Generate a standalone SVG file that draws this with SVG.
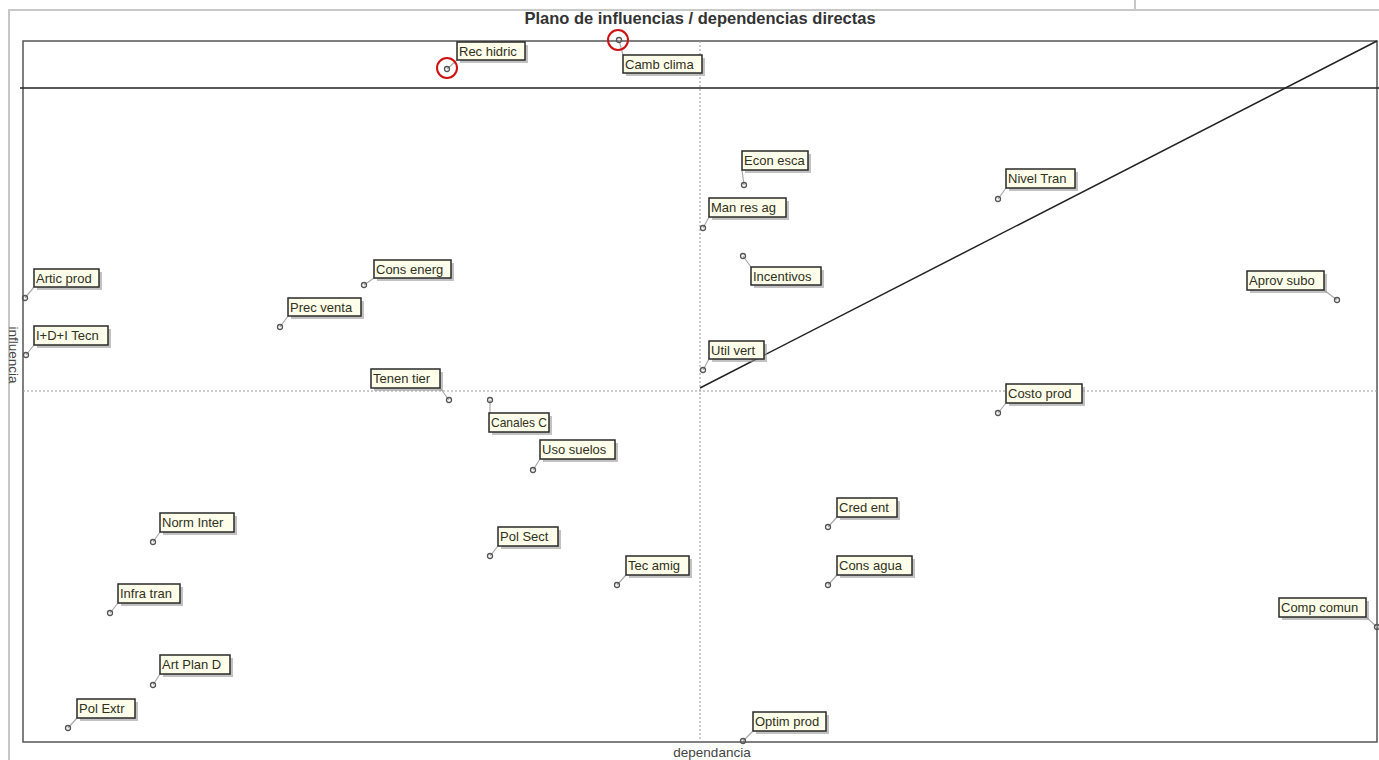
<svg xmlns="http://www.w3.org/2000/svg" width="1379" height="760" viewBox="0 0 1379 760">
<style>
.frame{fill:none;stroke:#c8c8c8;stroke-width:2}
.plot{fill:none;stroke:#555;stroke-width:1.5}
.axis{stroke:#999;stroke-width:1;stroke-dasharray:2,2}
.solid{stroke:#222;stroke-width:1.5;fill:none}
.title{font-family:"Liberation Sans",Arial,sans-serif;font-size:16.5px;font-weight:bold;fill:#333;text-anchor:middle}
.axlab{font-family:"Liberation Sans",Arial,sans-serif;font-size:13.5px;fill:#444}
.box{fill:#fdfdea;stroke:#2a2a2a;stroke-width:1.5}
.shadow{fill:#9a9a9a;opacity:0.6}
.lbl{font-family:"Liberation Sans",Arial,sans-serif;font-size:13px;fill:#30301c}
.lead{stroke:#aaa;stroke-width:1.2}
.pt{fill:none;stroke:#555;stroke-width:1.3}
.hl{fill:none;stroke:#d01010;stroke-width:2}
</style>
<rect width="1379" height="760" fill="#fff"/>
<g id="frame">
<path class="frame" d="M9,760 V10 H1379 M1135,0 V10"/>
<rect class="plot" x="23" y="41" width="1354" height="701"/>
<line class="solid" x1="20" y1="88" x2="1379" y2="88"/>
<line class="axis" x1="700" y1="41" x2="700" y2="742"/>
<line class="axis" x1="23" y1="391" x2="1377" y2="391"/>
<line class="solid" x1="700" y1="388" x2="1377" y2="41"/>
<text class="title" x="700" y="24">Plano de influencias / dependencias directas</text>
<text class="axlab" x="712" y="757" text-anchor="middle">dependancia</text>
<text class="axlab" transform="translate(9,355) rotate(90)" text-anchor="middle">influencia</text>
</g>
<g id="connectors">
<line class="lead" x1="447" y1="69" x2="457" y2="60"/>
<line class="lead" x1="619" y1="40" x2="623" y2="55"/>
<line class="lead" x1="744" y1="185" x2="742" y2="170"/>
<line class="lead" x1="703" y1="228" x2="709" y2="217"/>
<line class="lead" x1="743" y1="256" x2="751" y2="267"/>
<line class="lead" x1="998" y1="199" x2="1006" y2="188"/>
<line class="lead" x1="1337" y1="300" x2="1324" y2="290"/>
<line class="lead" x1="25" y1="298" x2="34" y2="287"/>
<line class="lead" x1="26" y1="355" x2="34" y2="345"/>
<line class="lead" x1="364" y1="285" x2="374" y2="278"/>
<line class="lead" x1="280" y1="327" x2="288" y2="316"/>
<line class="lead" x1="703" y1="370" x2="709" y2="359"/>
<line class="lead" x1="449" y1="400" x2="440" y2="388"/>
<line class="lead" x1="490" y1="400" x2="490" y2="413"/>
<line class="lead" x1="533" y1="470" x2="540" y2="459"/>
<line class="lead" x1="998" y1="413" x2="1006" y2="403"/>
<line class="lead" x1="153" y1="542" x2="160" y2="532"/>
<line class="lead" x1="490" y1="556" x2="498" y2="546"/>
<line class="lead" x1="617" y1="585" x2="626" y2="575"/>
<line class="lead" x1="828" y1="527" x2="837" y2="517"/>
<line class="lead" x1="828" y1="585" x2="837" y2="575"/>
<line class="lead" x1="110" y1="613" x2="118" y2="603"/>
<line class="lead" x1="153" y1="685" x2="160" y2="674"/>
<line class="lead" x1="68" y1="728" x2="77" y2="718"/>
<line class="lead" x1="743" y1="741" x2="753" y2="731"/>
<line class="lead" x1="1377" y1="627" x2="1366" y2="617"/>
</g>
<g id="n-rec-hidric"><circle class="pt" cx="447" cy="69" r="2.5"/><circle class="hl" cx="447" cy="68" r="10"/><rect class="shadow" x="460" y="45" width="68" height="18"/><rect class="box" x="457" y="42" width="68" height="18"/><text class="lbl" x="459" y="56">Rec hidric</text></g>
<g id="n-camb-clima"><circle class="pt" cx="619" cy="40" r="2.5"/><circle class="hl" cx="618" cy="40" r="10"/><rect class="shadow" x="626" y="58" width="79" height="18"/><rect class="box" x="623" y="55" width="79" height="18"/><text class="lbl" x="625" y="69">Camb clima</text></g>
<g id="n-econ-esca"><circle class="pt" cx="744" cy="185" r="2.5"/><rect class="shadow" x="745" y="154" width="66" height="19"/><rect class="box" x="742" y="151" width="66" height="19"/><text class="lbl" x="744" y="165">Econ esca</text></g>
<g id="n-man-res-ag"><circle class="pt" cx="703" cy="228" r="2.5"/><rect class="shadow" x="712" y="201" width="77" height="19"/><rect class="box" x="709" y="198" width="77" height="19"/><text class="lbl" x="711" y="212">Man res ag</text></g>
<g id="n-incentivos"><circle class="pt" cx="743" cy="256" r="2.5"/><rect class="shadow" x="754" y="270" width="70" height="18"/><rect class="box" x="751" y="267" width="70" height="18"/><text class="lbl" x="753" y="281">Incentivos</text></g>
<g id="n-nivel-tran"><circle class="pt" cx="998" cy="199" r="2.5"/><rect class="shadow" x="1009" y="172" width="69" height="19"/><rect class="box" x="1006" y="169" width="69" height="19"/><text class="lbl" x="1008" y="183">Nivel Tran</text></g>
<g id="n-aprov-subo"><circle class="pt" cx="1337" cy="300" r="2.5"/><rect class="shadow" x="1250" y="274" width="77" height="19"/><rect class="box" x="1247" y="271" width="77" height="19"/><text class="lbl" x="1249" y="285">Aprov subo</text></g>
<g id="n-artic-prod"><circle class="pt" cx="25" cy="298" r="2.5"/><rect class="shadow" x="37" y="272" width="65" height="18"/><rect class="box" x="34" y="269" width="65" height="18"/><text class="lbl" x="36" y="283">Artic prod</text></g>
<g id="n-idi-tecn"><circle class="pt" cx="26" cy="355" r="2.5"/><rect class="shadow" x="37" y="329" width="74" height="19"/><rect class="box" x="34" y="326" width="74" height="19"/><text class="lbl" x="36" y="340">I+D+I Tecn</text></g>
<g id="n-cons-energ"><circle class="pt" cx="364" cy="285" r="2.5"/><rect class="shadow" x="377" y="263" width="77" height="18"/><rect class="box" x="374" y="260" width="77" height="18"/><text class="lbl" x="376" y="274">Cons energ</text></g>
<g id="n-prec-venta"><circle class="pt" cx="280" cy="327" r="2.5"/><rect class="shadow" x="291" y="301" width="73" height="18"/><rect class="box" x="288" y="298" width="73" height="18"/><text class="lbl" x="290" y="312">Prec venta</text></g>
<g id="n-util-vert"><circle class="pt" cx="703" cy="370" r="2.5"/><rect class="shadow" x="712" y="344" width="55" height="18"/><rect class="box" x="709" y="341" width="55" height="18"/><text class="lbl" x="711" y="355">Util vert</text></g>
<g id="n-tenen-tier"><circle class="pt" cx="449" cy="400" r="2.5"/><rect class="shadow" x="374" y="372" width="69" height="19"/><rect class="box" x="371" y="369" width="69" height="19"/><text class="lbl" x="373" y="383">Tenen tier</text></g>
<g id="n-canales-c"><circle class="pt" cx="490" cy="400" r="2.5"/><rect class="shadow" x="492" y="416" width="60" height="19"/><rect class="box" x="489" y="413" width="60" height="19"/><text class="lbl" x="491" y="427" textLength="56" lengthAdjust="spacingAndGlyphs">Canales C</text></g>
<g id="n-uso-suelos"><circle class="pt" cx="533" cy="470" r="2.5"/><rect class="shadow" x="543" y="443" width="75" height="19"/><rect class="box" x="540" y="440" width="75" height="19"/><text class="lbl" x="542" y="454">Uso suelos</text></g>
<g id="n-costo-prod"><circle class="pt" cx="998" cy="413" r="2.5"/><rect class="shadow" x="1009" y="387" width="76" height="19"/><rect class="box" x="1006" y="384" width="76" height="19"/><text class="lbl" x="1008" y="398">Costo prod</text></g>
<g id="n-norm-inter"><circle class="pt" cx="153" cy="542" r="2.5"/><rect class="shadow" x="163" y="516" width="74" height="19"/><rect class="box" x="160" y="513" width="74" height="19"/><text class="lbl" x="162" y="527">Norm Inter</text></g>
<g id="n-pol-sect"><circle class="pt" cx="490" cy="556" r="2.5"/><rect class="shadow" x="501" y="530" width="60" height="19"/><rect class="box" x="498" y="527" width="60" height="19"/><text class="lbl" x="500" y="541">Pol Sect</text></g>
<g id="n-tec-amig"><circle class="pt" cx="617" cy="585" r="2.5"/><rect class="shadow" x="629" y="559" width="63" height="19"/><rect class="box" x="626" y="556" width="63" height="19"/><text class="lbl" x="628" y="570">Tec amig</text></g>
<g id="n-cred-ent"><circle class="pt" cx="828" cy="527" r="2.5"/><rect class="shadow" x="840" y="501" width="60" height="19"/><rect class="box" x="837" y="498" width="60" height="19"/><text class="lbl" x="839" y="512">Cred ent</text></g>
<g id="n-cons-agua"><circle class="pt" cx="828" cy="585" r="2.5"/><rect class="shadow" x="840" y="559" width="75" height="19"/><rect class="box" x="837" y="556" width="75" height="19"/><text class="lbl" x="839" y="570">Cons agua</text></g>
<g id="n-infra-tran"><circle class="pt" cx="110" cy="613" r="2.5"/><rect class="shadow" x="121" y="587" width="62" height="19"/><rect class="box" x="118" y="584" width="62" height="19"/><text class="lbl" x="120" y="598">Infra tran</text></g>
<g id="n-art-plan-d"><circle class="pt" cx="153" cy="685" r="2.5"/><rect class="shadow" x="163" y="658" width="70" height="19"/><rect class="box" x="160" y="655" width="70" height="19"/><text class="lbl" x="162" y="669">Art Plan D</text></g>
<g id="n-pol-extr"><circle class="pt" cx="68" cy="728" r="2.5"/><rect class="shadow" x="80" y="702" width="58" height="19"/><rect class="box" x="77" y="699" width="58" height="19"/><text class="lbl" x="79" y="713">Pol Extr</text></g>
<g id="n-optim-prod"><circle class="pt" cx="743" cy="741" r="2.5"/><rect class="shadow" x="756" y="715" width="73" height="19"/><rect class="box" x="753" y="712" width="73" height="19"/><text class="lbl" x="755" y="726">Optim prod</text></g>
<g id="n-comp-comun"><circle class="pt" cx="1377" cy="627" r="2.5"/><rect class="shadow" x="1282" y="601" width="87" height="19"/><rect class="box" x="1279" y="598" width="87" height="19"/><text class="lbl" x="1281" y="612">Comp comun</text></g>
</svg>
